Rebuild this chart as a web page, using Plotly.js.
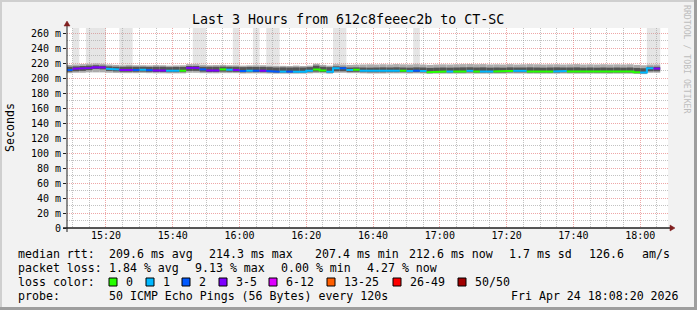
<!DOCTYPE html>
<html><head><meta charset="utf-8">
<script src="https://cdn.plot.ly/plotly-3.0.1.min.js"></script>
<style>
html,body{margin:0;padding:0;background:#f2f2f2;}
#wrap{position:relative;width:697px;height:310px;overflow:hidden;}
#chart{position:absolute;left:0;top:0;width:697px;height:310px;}
.b{position:absolute;}
#chart .gridlayer path,#chart .minor-gridlayer path{shape-rendering:crispEdges !important;}
</style></head><body>
<div id="wrap"><div id="chart"></div>
<div class="b" style="left:0;top:0;width:697px;height:2px;background:#cfcfcf"></div>
<div class="b" style="left:0;top:0;width:2px;height:310px;background:#cfcfcf"></div>
<div class="b" style="left:0;bottom:0;width:697px;height:3px;background:#9e9e9e"></div>
<div class="b" style="right:0;top:0;width:3px;height:310px;background:#9e9e9e"></div>
</div>
<script>
// ---------------- data ----------------
const titleText = "Last 3 Hours from 612c8feeec2b to CT-SC";
const stepTimes = [
"15:08","15:10","15:12","15:14","15:16","15:18","15:20","15:22","15:24","15:26","15:28","15:30","15:32","15:34","15:36","15:38","15:40","15:42","15:44","15:46","15:48","15:50","15:52","15:54","15:56","15:58",
"16:00","16:02","16:04","16:06","16:08","16:10","16:12","16:14","16:16","16:18","16:20","16:22","16:24","16:26","16:28","16:30","16:32","16:34","16:36","16:38","16:40","16:42","16:44","16:46","16:48","16:50","16:52","16:54","16:56","16:58",
"17:00","17:02","17:04","17:06","17:08","17:10","17:12","17:14","17:16","17:18","17:20","17:22","17:24","17:26","17:28","17:30","17:32","17:34","17:36","17:38","17:40","17:42","17:44","17:46","17:48","17:50","17:52","17:54","17:56","17:58",
"18:00","18:02","18:04"];
const medianMs = [
210.7,212.5,213.0,213.5,214.3,214.0,212.5,211.5,210.7,210.7,
210.7,211.0,210.5,210.0,210.0,209.7,209.7,209.7,213.5,213.5,
211.5,210.0,210.0,211.5,211.0,210.7,209.3,209.7,209.7,209.7,
209.5,208.5,208.5,208.5,208.5,208.5,209.7,211.5,210.0,208.5,
213.0,213.0,210.7,211.0,209.7,209.3,209.3,209.3,209.7,209.7,
209.7,209.3,209.7,209.3,207.6,208.6,208.6,208.6,208.6,208.6,
209.5,208.6,208.6,208.6,208.6,208.6,209.5,209.5,209.5,208.6,
208.6,208.6,208.6,208.6,209.5,208.8,208.6,208.6,208.7,208.6,
208.6,208.5,208.6,208.6,208.6,207.6,207.4,213.0,212.6];
const lostPings = [
2,3,3,4,4,3,1,1,3,3,
2,1,2,3,3,1,1,0,3,3,
2,3,3,0,1,3,2,1,2,3,
2,2,1,2,1,1,1,0,0,1,
1,2,1,0,1,1,1,1,1,1,
0,1,2,1,0,0,0,1,0,0,
1,0,1,1,0,0,0,1,1,0,
0,0,0,1,1,0,0,0,0,0,
0,0,0,0,0,0,1,1,3];
const smokeMax = [
217.5,218.0,218.5,219.0,219.5,219.0,218.0,217.5,217.0,217.5,
217.0,217.0,216.8,217.2,217.0,216.5,216.8,217.0,218.5,218.5,
217.5,217.0,217.2,217.5,217.0,217.0,216.5,216.8,217.0,217.0,
216.5,216.0,216.2,216.0,216.5,216.0,216.5,219.0,217.5,216.5,
218.5,218.0,217.5,217.8,218.0,218.2,218.0,218.3,218.0,218.5,
218.2,218.0,218.5,218.0,217.5,218.0,218.2,218.0,218.3,218.5,
218.6,218.3,218.5,218.0,218.2,218.0,218.4,218.0,218.2,218.5,
218.3,218.0,218.2,218.3,218.0,218.2,218.5,218.0,218.2,218.0,
218.3,218.0,218.2,218.0,218.3,217.5,217.0,218.0,218.0];
const coreHi = [
215.0,215.5,216.0,216.5,217.0,216.5,215.5,215.0,215.0,215.2,
215.0,215.0,214.8,215.0,215.0,214.5,214.8,214.8,216.0,216.0,
215.0,215.0,215.0,215.2,215.0,215.0,214.5,214.8,214.8,214.8,
214.5,214.0,214.2,214.0,214.2,214.0,214.5,216.5,215.0,214.5,
215.5,215.0,214.0,214.2,214.0,213.8,214.0,214.2,214.0,214.3,
214.0,213.8,214.2,214.0,213.5,213.8,214.0,213.8,214.0,214.2,
214.3,214.0,214.2,213.8,214.0,213.8,214.2,214.0,214.0,214.2,
214.0,213.8,214.0,214.2,214.0,214.0,214.2,213.8,214.0,213.8,
214.0,213.8,214.0,213.8,214.0,213.5,213.0,215.0,215.0];
const coreLo = [
208.3,209.0,209.5,210.5,212.0,211.5,209.5,208.8,208.3,208.3,
208.3,208.5,208.2,208.0,208.0,207.8,207.8,207.8,209.5,209.5,
208.5,208.0,208.0,208.5,208.3,208.2,207.6,207.8,207.8,207.8,
207.6,207.3,207.3,207.3,207.3,207.3,207.8,208.5,208.0,207.3,
209.0,209.0,208.2,208.3,207.8,207.6,207.6,207.6,207.8,207.8,
207.8,207.6,207.8,207.6,206.8,207.3,207.3,207.3,207.3,207.3,
207.6,207.3,207.3,207.3,207.3,207.3,207.6,207.6,207.6,207.3,
207.3,207.3,207.3,207.3,207.6,207.4,207.3,207.3,207.3,207.3,
207.3,207.2,207.3,207.3,207.3,206.6,206.4,209.0,209.0];
const smokeMin = [
206.5,207.0,207.0,207.5,207.5,207.5,207.0,206.8,206.5,206.5,
206.5,206.8,206.5,206.3,206.3,206.2,206.2,206.2,207.0,207.0,
206.5,206.3,206.3,206.5,206.5,206.5,206.0,206.2,206.2,206.2,
206.0,205.8,205.8,205.8,205.8,205.8,206.2,206.5,206.3,205.8,
207.0,207.0,206.5,206.5,206.2,206.0,206.0,206.0,206.2,206.2,
206.2,206.0,206.2,206.0,205.5,205.8,205.8,205.8,205.8,205.8,
206.0,205.8,205.8,205.8,205.8,205.8,206.0,206.0,206.0,205.8,
205.8,205.8,205.8,205.8,206.0,205.9,205.8,205.8,205.8,205.8,
205.8,205.7,205.8,205.8,205.8,205.3,205.2,207.0,207.0];
// slowest pings that went off the top of the scale (null = none)
const offScaleMax = [
null,300,null,300,300,300,null,null,300,300,
null,null,null,null,null,null,null,null,null,300,
300,null,null,null,null,300,null,null,300,null,
300,300,null,null,null,null,null,null,null,null,
300,300,null,null,null,null,null,null,null,null,
null,null,300,null,null,null,null,null,null,null,
null,null,null,null,null,null,null,null,null,null,
null,null,null,null,null,null,null,null,null,null,
null,null,null,null,null,null,null,300,300];
const lossBins = ["0","1","2","3-5","6-12","13-25","26-49","50/50"];
const lossBinMax = [0,1,2,5,12,25,49,50];
const lossColors = ["#26ff00","#00b8ff","#0059ff","#7e00ff","#dd00ff","#ff5e00","#ff0000","#a10000"];
const yTickVals = [0,20,40,60,80,100,120,140,160,180,200,220,240,260];
const yTickText = ["0","20 m","40 m","60 m","80 m","100 m","120 m","140 m","160 m","180 m","200 m","220 m","240 m","260 m"];
const yMinorGrid = [10,30,50,70,90,110,130,150,170,190,210,230,250];
const xTickLabels = ["15:20","15:40","16:00","16:20","16:40","17:00","17:20","17:40","18:00"];
const xMinorGrid = ["15:10","15:15","15:25","15:30","15:35","15:45","15:50","15:55","16:05","16:10","16:15","16:25","16:30","16:35",
"16:45","16:50","16:55","17:05","17:10","17:15","17:25","17:30","17:35","17:45","17:50","17:55","18:05"];
const rttLine = ["median rtt:","209.6 ms avg","214.3 ms max","207.4 ms min","212.6 ms now","1.7 ms sd","126.6","am/s"];
const lossLine = ["packet loss:","1.84 % avg","9.13 % max","0.00 % min","4.27 % now"];
const probeLine = ["probe:","50 ICMP Echo Pings (56 Bytes) every 120s","Fri Apr 24 18:08:20 2026"];
const lossColorLabel = "loss color:";
const yLabel = "Seconds";
const watermark = "RRDTOOL / TOBI OETIKER";

// ---------------- build ----------------
const FONT = "DejaVu Sans Mono";
const STEP = 120000;
function toMs(hm){const p=hm.split(":");return Date.UTC(2026,3,24,+p[0],+p[1],p[2]?+p[2]:0);}
const T = stepTimes.map(toMs);
const centers = T.map(t=>t+STEP/2);
const N = T.length;
function X(px){return (px-67)/601;}
function Y(py){return (228-py)/200;}
function binOf(l){for(let i=0;i<lossBinMax.length;i++){if(l<=lossBinMax[i])return i;}return lossBinMax.length-1;}

const traces = [];
traces.push({type:'bar',x:centers,base:smokeMax,y:offScaleMax.map((v,i)=>v===null?null:v-smokeMax[i]),width:STEP,
  marker:{color:'rgba(170,170,170,0.3)',line:{width:0}},hoverinfo:'skip',showlegend:false});
traces.push({type:'bar',x:centers,base:smokeMin,y:smokeMax.map((v,i)=>v-smokeMin[i]),width:STEP,
  marker:{color:'#acacac',line:{width:0}},hoverinfo:'skip',showlegend:false});
traces.push({type:'bar',x:centers,base:coreLo,y:coreHi.map((v,i)=>v-coreLo[i]),width:STEP,
  marker:{color:'#555555',line:{width:0}},hoverinfo:'skip',showlegend:false});
const med = lossColors.map(c=>({type:'scatter',mode:'lines',x:[],y:[],line:{color:c,width:2},hoverinfo:'skip',showlegend:false,connectgaps:false}));
for(let k=0;k<N;k++){
  const b=binOf(lostPings[k]);const tr=med[b];
  const prevSame = k>0 && binOf(lostPings[k-1])===b;
  if(!prevSame && tr.x.length){tr.x.push(null);tr.y.push(null);}
  tr.x.push(T[k],T[k]+STEP);tr.y.push(medianMs[k],medianMs[k]);
}
med.forEach(t=>{if(t.x.length)traces.push(t);});

const ann = [];
function txt(s,px,py,o){ann.push(Object.assign({text:s,xref:'paper',yref:'paper',x:X(px),y:Y(py),xanchor:'left',yanchor:'middle',showarrow:false,
  font:{family:FONT,size:11.6,color:'#000'}},o||{}));}
txt(titleText,348,20,{xanchor:'center',font:{family:FONT,size:13.3,color:'#000'}});
txt(yLabel,10,128,{xanchor:'center',textangle:-90});
txt(watermark,687,59,{xanchor:'center',textangle:90,font:{family:FONT,size:8.2,color:'#bdbdbd'}});
const rttX=[16,107,207,313,407,507,587,640];
rttLine.forEach((s,i)=>txt(s,rttX[i],254));
const lossX=[16,107,193,279,365];
lossLine.forEach((s,i)=>txt(s,lossX[i],268));
txt(lossColorLabel,16,282);
const boxX=[109,146,182,219,269,327,393,458];
const shapes=[];
lossBins.forEach((s,i)=>{
  txt(s,boxX[i]+15,282);
  shapes.push({type:'rect',xref:'paper',yref:'paper',x0:X(boxX[i]),x1:X(boxX[i]+8),y0:Y(286),y1:Y(278),fillcolor:lossColors[i],line:{color:'#000',width:1}});
});
txt(probeLine[0],16,296);txt(probeLine[1],107,296);txt(probeLine[2],681,296,{xanchor:'right'});

// axes with arrows (rrdtool style)
shapes.push({type:'line',xref:'paper',yref:'paper',x0:X(63),x1:X(672),y0:0,y1:0,line:{color:'#1f1f1f',width:1.5},layer:'above'});
shapes.push({type:'line',xref:'paper',yref:'paper',x0:0,x1:0,y0:Y(232),y1:Y(24),line:{color:'#1f1f1f',width:1},layer:'above'});
shapes.push({type:'path',xref:'paper',yref:'paper',path:`M ${X(670)} ${Y(225)} L ${X(670)} ${Y(231)} L ${X(675)} ${Y(228)} Z`,fillcolor:'#801f1f',line:{color:'#801f1f',width:0.5},layer:'above'});
shapes.push({type:'path',xref:'paper',yref:'paper',path:`M ${X(64)} ${Y(26)} L ${X(70)} ${Y(26)} L ${X(67)} ${Y(21)} Z`,fillcolor:'#801f1f',line:{color:'#801f1f',width:0.5},layer:'above'});

const MAJ='rgba(222,79,79,0.5)', MIN='rgba(143,143,143,0.55)';
const layout = {
  width:697,height:310,margin:{l:67,r:29,t:28,b:82,pad:0},
  paper_bgcolor:'#f2f2f2',plot_bgcolor:'#ffffff',
  font:{family:FONT,size:10,color:'#000'},
  barmode:'overlay',showlegend:false,
  xaxis:{type:'date',range:[toMs('15:08:20'),toMs('18:08:20')],tickmode:'array',tickvals:xTickLabels.map(toMs),ticktext:xTickLabels,
    showgrid:true,gridcolor:MAJ,griddash:'1px,1px',gridwidth:1,
    minor:{tickmode:'array',tickvals:xMinorGrid.map(toMs),showgrid:true,gridcolor:MIN,griddash:'1px,1px',gridwidth:1,ticks:''},
    zeroline:false,showline:false,ticks:'',tickfont:{family:FONT,size:10,color:'#000'},fixedrange:true},
  yaxis:{range:[0,266.667],tickmode:'array',tickvals:yTickVals,ticktext:yTickText,
    showgrid:true,gridcolor:MAJ,griddash:'1px,1px',gridwidth:1,
    minor:{tickmode:'array',tickvals:yMinorGrid,showgrid:true,gridcolor:MIN,griddash:'1px,1px',gridwidth:1,ticks:''},
    zeroline:false,showline:false,ticks:'outside',ticklen:3,tickcolor:'#1f1f1f',tickfont:{family:FONT,size:10,color:'#000'},fixedrange:true},
  annotations:ann,shapes:shapes
};
Plotly.newPlot('chart',traces,layout,{staticPlot:true,displayModeBar:false});
</script>
</body></html>
